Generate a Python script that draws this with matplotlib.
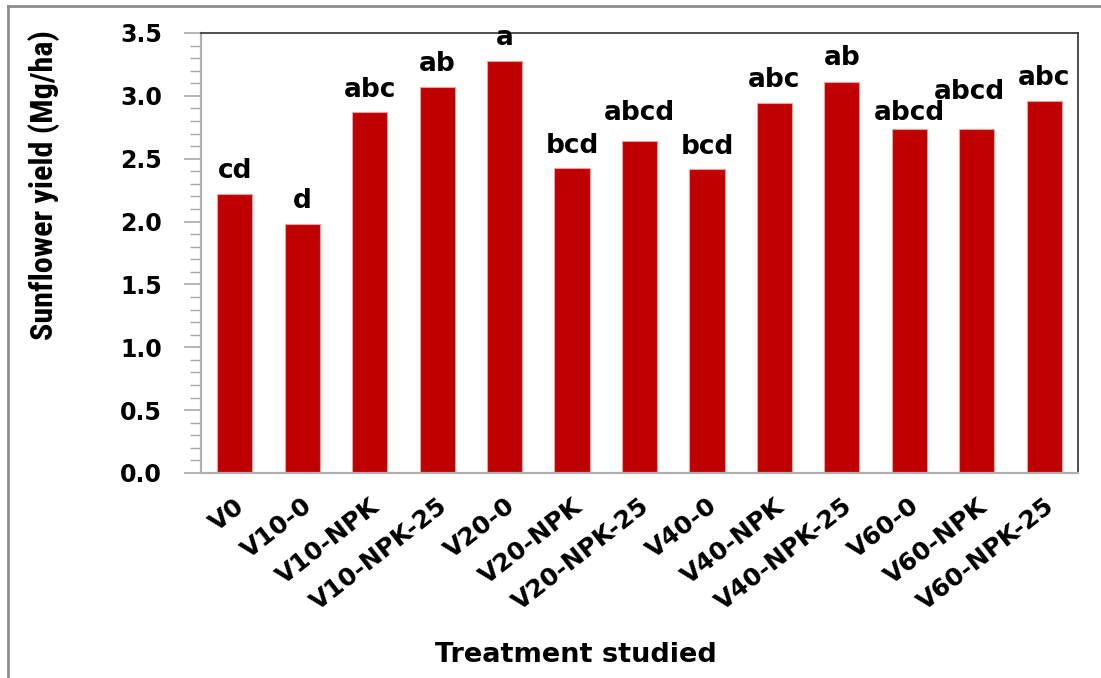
import numpy as np
import matplotlib
matplotlib.use("Agg")
import matplotlib.pyplot as plt
from matplotlib import font_manager
from matplotlib.lines import Line2D
from matplotlib.ticker import MultipleLocator, FormatStrFormatter
import matplotlib.transforms as mtransforms

treatments = ["V0", "V10-0", "V10-NPK", "V10-NPK-25", "V20-0", "V20-NPK",
              "V20-NPK-25", "V40-0", "V40-NPK", "V40-NPK-25", "V60-0",
              "V60-NPK", "V60-NPK-25"]
yield_mg_ha = [2.22, 1.98, 2.87, 3.07, 3.28, 2.43, 2.64, 2.42, 2.94, 3.11,
               2.74, 2.74, 2.96]
letters = ["cd", "d", "abc", "ab", "a", "bcd", "abcd", "bcd", "abc", "ab",
           "abcd", "abcd", "abc"]

# nudges (pixels) for the significance letters: (dx, dy above bar top)
letter_nudge = [(0, 16), (0, 16), (0, 15), (0, 16), (0, 16), (0, 15),
                (0, 21), (0, 15), (0, 16), (0, 17), (0, 9), (-7, 30), (0, 16)]

# narrowest family available for the long vertical axis title
names = {f.name for f in font_manager.fontManager.ttflist}
narrow = "Lato"
for cand in ["Liberation Sans Narrow", "Roboto Condensed", "Open Sans Condensed",
             "Noto Sans Condensed", "DejaVu Sans Condensed"]:
    if cand in names:
        narrow = cand
        break

bar_red = "#c00000"

fig = plt.figure(figsize=(11.01, 6.78), dpi=100)
ax = fig.add_axes([201 / 1101, 1 - 473 / 678, 877 / 1101, 440 / 678])

x = np.arange(len(treatments))
ax.bar(x, yield_mg_ha, width=0.52, color=bar_red, edgecolor="#eaa0a0",
       linewidth=0.8, zorder=2)

for i, (val, lab) in enumerate(zip(yield_mg_ha, letters)):
    dx, dy = letter_nudge[i]
    ax.annotate(lab, (i, val), xytext=(dx * 0.72, dy * 0.72),
                textcoords="offset points", ha="center", va="baseline",
                fontsize=19, fontweight="bold", family="DejaVu Sans",
                color="black")

ax.set_xlim(-0.5, len(treatments) - 0.5)
ax.set_ylim(0, 3.5)
ax.yaxis.set_major_locator(MultipleLocator(0.5))
ax.yaxis.set_minor_locator(MultipleLocator(0.1))
ax.yaxis.set_major_formatter(FormatStrFormatter("%.1f"))
ax.tick_params(axis="y", which="major", length=12, width=1.2,
               color="#a8a8a8", pad=16, labelsize=17)
ax.tick_params(axis="y", which="minor", length=8, width=1.0, color="#a8a8a8")
for t in ax.get_yticklabels():
    t.set_fontweight("bold")
    t.set_family("DejaVu Sans")

ax.set_xticks(x)
ax.set_xticklabels(treatments, rotation=38, ha="right", va="top",
                   rotation_mode="anchor", fontsize=18, fontweight="bold",
                   family="DejaVu Sans")
ax.tick_params(axis="x", length=0, pad=15)
shift = mtransforms.ScaledTranslation(0, 0, fig.dpi_scale_trans)
for t in ax.get_xticklabels():
    t.set_transform(t.get_transform() + shift)

ax.spines["left"].set_color("#b0b0b0")
ax.spines["bottom"].set_color("#b0b0b0")
ax.spines["left"].set_linewidth(1.6)
ax.spines["bottom"].set_linewidth(1.6)
ax.spines["top"].set_color("#303030")
ax.spines["right"].set_color("#303030")
ax.spines["top"].set_linewidth(1.2)
ax.spines["right"].set_linewidth(1.2)

ylab = fig.text(44 / 1101, 1 - 185 / 678, "Sunflower yield (Mg/ha)",
                rotation=90, ha="center", va="center", fontsize=24,
                fontweight="bold", family=narrow)
# shrink the title so it runs about 310 px down the left margin
renderer = fig.canvas.get_renderer()
h = ylab.get_window_extent(renderer).height
ylab.set_fontsize(min(26, 24 * 310 / h))

fig.text(576 / 1101, 1 - 655 / 678, "Treatment studied", ha="center",
         va="center", fontsize=19.5, fontweight="bold", family="DejaVu Sans")

# thin grey frame along the top and left edges
fig.add_artist(Line2D([8 / 1101, 8 / 1101], [0, 1 - 6 / 678],
                      transform=fig.transFigure, color="#8c8c8c", lw=2))
fig.add_artist(Line2D([8 / 1101, 1], [1 - 6 / 678, 1 - 6 / 678],
                      transform=fig.transFigure, color="#8c8c8c", lw=2))

fig.savefig("out.png", dpi=100)
